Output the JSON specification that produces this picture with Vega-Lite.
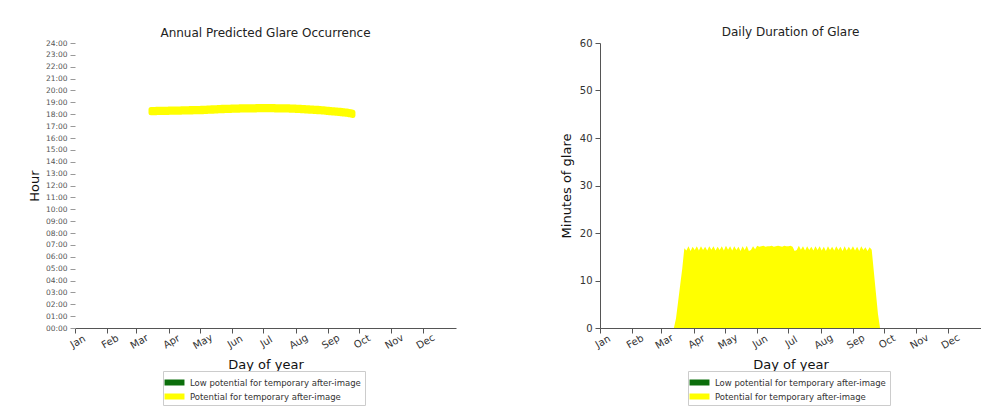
{
  "$schema": "https://vega.github.io/schema/vega-lite/v6.json",
  "padding": {"left": 28, "top": 26, "right": 0, "bottom": 0},
  "config": {
    "font": "DejaVu Sans",
    "view": {"stroke": null},
    "title": {"fontSize": 12, "fontWeight": "normal", "color": "#222", "anchor": "middle", "offset": -1},
    "axis": {"grid": false, "domainColor": "#555", "tickColor": "#555", "labelColor": "#333", "titleColor": "#111", "titleFontWeight": "normal"},
    "concat": {"spacing": 104}
  },
  "datasets": {
    "glare": [
      {"day": 71, "minutes": 0, "start": null, "end": null},
      {"day": 73, "minutes": 2, "start": 18.13, "end": 18.41},
      {"day": 75, "minutes": 5.5, "start": 18.13, "end": 18.41},
      {"day": 77, "minutes": 9, "start": 18.13, "end": 18.41},
      {"day": 79, "minutes": 12.5, "start": 18.14, "end": 18.42},
      {"day": 81, "minutes": 16.8, "start": 18.14, "end": 18.42},
      {"day": 83, "minutes": 16.3, "start": 18.14, "end": 18.42},
      {"day": 85, "minutes": 17.2, "start": 18.15, "end": 18.43},
      {"day": 87, "minutes": 16.2, "start": 18.15, "end": 18.43},
      {"day": 89, "minutes": 17.1, "start": 18.15, "end": 18.43},
      {"day": 91, "minutes": 16.4, "start": 18.16, "end": 18.44},
      {"day": 93, "minutes": 17.2, "start": 18.16, "end": 18.44},
      {"day": 95, "minutes": 16.3, "start": 18.16, "end": 18.44},
      {"day": 97, "minutes": 17.2, "start": 18.17, "end": 18.45},
      {"day": 99, "minutes": 16.4, "start": 18.17, "end": 18.45},
      {"day": 101, "minutes": 17.1, "start": 18.17, "end": 18.45},
      {"day": 103, "minutes": 16.3, "start": 18.18, "end": 18.46},
      {"day": 105, "minutes": 17.2, "start": 18.18, "end": 18.46},
      {"day": 107, "minutes": 16.5, "start": 18.19, "end": 18.47},
      {"day": 109, "minutes": 17.2, "start": 18.19, "end": 18.47},
      {"day": 111, "minutes": 16.3, "start": 18.20, "end": 18.48},
      {"day": 113, "minutes": 17.1, "start": 18.20, "end": 18.48},
      {"day": 115, "minutes": 16.4, "start": 18.21, "end": 18.49},
      {"day": 117, "minutes": 17.2, "start": 18.21, "end": 18.49},
      {"day": 119, "minutes": 16.3, "start": 18.21, "end": 18.49},
      {"day": 121, "minutes": 17.3, "start": 18.22, "end": 18.50},
      {"day": 123, "minutes": 16.5, "start": 18.22, "end": 18.50},
      {"day": 125, "minutes": 17.2, "start": 18.23, "end": 18.51},
      {"day": 127, "minutes": 16.3, "start": 18.24, "end": 18.52},
      {"day": 129, "minutes": 17.2, "start": 18.25, "end": 18.53},
      {"day": 131, "minutes": 16.4, "start": 18.26, "end": 18.54},
      {"day": 133, "minutes": 17.1, "start": 18.26, "end": 18.54},
      {"day": 135, "minutes": 16.2, "start": 18.27, "end": 18.55},
      {"day": 137, "minutes": 17.2, "start": 18.28, "end": 18.56},
      {"day": 139, "minutes": 16.4, "start": 18.29, "end": 18.57},
      {"day": 141, "minutes": 17.3, "start": 18.30, "end": 18.58},
      {"day": 143, "minutes": 16.2, "start": 18.30, "end": 18.58},
      {"day": 145, "minutes": 16.4, "start": 18.31, "end": 18.59},
      {"day": 147, "minutes": 17.2, "start": 18.32, "end": 18.60},
      {"day": 149, "minutes": 16.6, "start": 18.32, "end": 18.60},
      {"day": 151, "minutes": 17.3, "start": 18.33, "end": 18.61},
      {"day": 153, "minutes": 17.1, "start": 18.33, "end": 18.61},
      {"day": 155, "minutes": 17.2, "start": 18.34, "end": 18.62},
      {"day": 157, "minutes": 17.3, "start": 18.34, "end": 18.62},
      {"day": 159, "minutes": 17.1, "start": 18.35, "end": 18.63},
      {"day": 161, "minutes": 17.2, "start": 18.35, "end": 18.63},
      {"day": 163, "minutes": 17.2, "start": 18.35, "end": 18.63},
      {"day": 165, "minutes": 17.3, "start": 18.36, "end": 18.64},
      {"day": 167, "minutes": 17.1, "start": 18.36, "end": 18.64},
      {"day": 169, "minutes": 17.2, "start": 18.36, "end": 18.64},
      {"day": 171, "minutes": 17.3, "start": 18.36, "end": 18.64},
      {"day": 173, "minutes": 17.2, "start": 18.36, "end": 18.64},
      {"day": 175, "minutes": 17.1, "start": 18.37, "end": 18.65},
      {"day": 177, "minutes": 17.3, "start": 18.37, "end": 18.65},
      {"day": 179, "minutes": 17.2, "start": 18.37, "end": 18.65},
      {"day": 181, "minutes": 17.2, "start": 18.37, "end": 18.65},
      {"day": 183, "minutes": 17.3, "start": 18.37, "end": 18.65},
      {"day": 185, "minutes": 17.1, "start": 18.37, "end": 18.65},
      {"day": 187, "minutes": 16.2, "start": 18.37, "end": 18.65},
      {"day": 189, "minutes": 16.4, "start": 18.37, "end": 18.65},
      {"day": 191, "minutes": 17.3, "start": 18.37, "end": 18.65},
      {"day": 193, "minutes": 16.5, "start": 18.36, "end": 18.64},
      {"day": 195, "minutes": 17.2, "start": 18.36, "end": 18.64},
      {"day": 197, "minutes": 16.3, "start": 18.36, "end": 18.64},
      {"day": 199, "minutes": 17.2, "start": 18.36, "end": 18.64},
      {"day": 201, "minutes": 16.4, "start": 18.36, "end": 18.64},
      {"day": 203, "minutes": 17.1, "start": 18.35, "end": 18.63},
      {"day": 205, "minutes": 16.3, "start": 18.35, "end": 18.63},
      {"day": 207, "minutes": 17.2, "start": 18.34, "end": 18.62},
      {"day": 209, "minutes": 16.4, "start": 18.34, "end": 18.62},
      {"day": 211, "minutes": 17.2, "start": 18.33, "end": 18.61},
      {"day": 213, "minutes": 16.3, "start": 18.32, "end": 18.60},
      {"day": 215, "minutes": 17.1, "start": 18.31, "end": 18.59},
      {"day": 217, "minutes": 16.2, "start": 18.30, "end": 18.58},
      {"day": 219, "minutes": 17.2, "start": 18.29, "end": 18.57},
      {"day": 221, "minutes": 16.4, "start": 18.28, "end": 18.56},
      {"day": 223, "minutes": 17.1, "start": 18.27, "end": 18.55},
      {"day": 225, "minutes": 16.3, "start": 18.26, "end": 18.54},
      {"day": 227, "minutes": 17.2, "start": 18.25, "end": 18.53},
      {"day": 229, "minutes": 16.4, "start": 18.24, "end": 18.52},
      {"day": 231, "minutes": 17.1, "start": 18.23, "end": 18.51},
      {"day": 233, "minutes": 16.2, "start": 18.22, "end": 18.50},
      {"day": 235, "minutes": 17.2, "start": 18.21, "end": 18.49},
      {"day": 237, "minutes": 16.3, "start": 18.19, "end": 18.47},
      {"day": 239, "minutes": 17.1, "start": 18.18, "end": 18.46},
      {"day": 241, "minutes": 16.4, "start": 18.16, "end": 18.44},
      {"day": 243, "minutes": 17.2, "start": 18.14, "end": 18.42},
      {"day": 245, "minutes": 16.3, "start": 18.13, "end": 18.41},
      {"day": 247, "minutes": 17.1, "start": 18.11, "end": 18.39},
      {"day": 249, "minutes": 16.2, "start": 18.10, "end": 18.38},
      {"day": 251, "minutes": 17.2, "start": 18.08, "end": 18.36},
      {"day": 253, "minutes": 16.4, "start": 18.06, "end": 18.34},
      {"day": 255, "minutes": 17.0, "start": 18.05, "end": 18.33},
      {"day": 257, "minutes": 16.2, "start": 18.03, "end": 18.31},
      {"day": 259, "minutes": 17.0, "start": 18.01, "end": 18.29},
      {"day": 261, "minutes": 16.5, "start": 17.99, "end": 18.27},
      {"day": 263, "minutes": 12, "start": 17.96, "end": 18.24},
      {"day": 265, "minutes": 7.5, "start": 17.93, "end": 18.21},
      {"day": 267, "minutes": 3, "start": 17.90, "end": 18.18},
      {"day": 269, "minutes": 0, "start": null, "end": null}
    ]
  },
  "hconcat": [
    {
      "width": 381,
      "height": 285,
      "title": "Annual Predicted Glare Occurrence",
      "data": {"name": "glare"},
      "transform": [{"filter": "datum.start != null"}],
      "mark": {"type": "area", "stroke": "#ffff00", "strokeWidth": 5, "strokeJoin": "round", "strokeCap": "round", "interpolate": "monotone", "opacity": 1},
      "encoding": {
        "x": {
          "field": "day", "type": "quantitative",
          "scale": {"domain": [0, 366], "nice": false, "zero": false},
          "axis": {
            "values": [0, 31, 59, 90, 120, 151, 181, 212, 243, 273, 304, 334],
            "labelExpr": "['Jan','Feb','Mar','Apr','May','Jun','Jul','Aug','Sep','Oct','Nov','Dec'][indexof([0,31,59,90,120,151,181,212,243,273,304,334], datum.value)]",
            "labelAngle": -30, "labelAlign": "center", "labelBaseline": "top",
            "labelFontSize": 10, "tickSize": 5, "labelPadding": 4,
            "title": "Day of year", "titleFontSize": 13, "titlePadding": 8
          }
        },
        "y": {
          "field": "start", "type": "quantitative",
          "scale": {"domain": [0, 24], "nice": false},
          "axis": {
            "values": [0, 1, 2, 3, 4, 5, 6, 7, 8, 9, 10, 11, 12, 13, 14, 15, 16, 17, 18, 19, 20, 21, 22, 23, 24],
            "labelExpr": "format(datum.value, '02d') + ':00'",
            "labelFontSize": 7.5, "labelColor": "#555", "domain": false,
            "tickSize": 5, "tickColor": "#999", "labelPadding": 3,
            "title": "Hour", "titleFontSize": 13, "titlePadding": 4
          }
        },
        "y2": {"field": "end"},
        "color": {
          "datum": "Potential for temporary after-image", "type": "nominal",
          "scale": {"domain": ["Low potential for temporary after-image", "Potential for temporary after-image"], "range": ["#0b6e0b", "#ffff00"]},
          "legend": {
            "orient": "none", "legendX": 88, "legendY": 328, "title": null, "direction": "vertical",
            "strokeColor": "#ccc", "padding": 4, "symbolType": "M-1.33,-0.4H1.33V0.4H-1.33Z",
            "symbolSize": 225, "symbolStrokeWidth": 0, "labelFontSize": 8.5, "labelColor": "#333",
            "rowPadding": 2, "labelOffset": 8, "labelLimit": 400
          }
        }
      }
    },
    {
      "width": 381,
      "height": 285,
      "title": "Daily Duration of Glare",
      "data": {"name": "glare"},
      "mark": {"type": "area", "opacity": 1},
      "encoding": {
        "x": {
          "field": "day", "type": "quantitative",
          "scale": {"domain": [0, 366], "nice": false, "zero": false},
          "axis": {
            "values": [0, 31, 59, 90, 120, 151, 181, 212, 243, 273, 304, 334],
            "labelExpr": "['Jan','Feb','Mar','Apr','May','Jun','Jul','Aug','Sep','Oct','Nov','Dec'][indexof([0,31,59,90,120,151,181,212,243,273,304,334], datum.value)]",
            "labelAngle": -30, "labelAlign": "center", "labelBaseline": "top",
            "labelFontSize": 10, "tickSize": 5, "labelPadding": 4,
            "title": "Day of year", "titleFontSize": 13, "titlePadding": 8
          }
        },
        "y": {
          "field": "minutes", "type": "quantitative",
          "scale": {"domain": [0, 60], "nice": false},
          "axis": {
            "values": [0, 10, 20, 30, 40, 50, 60],
            "labelFontSize": 10, "tickSize": 5, "labelPadding": 3,
            "title": "Minutes of glare", "titleFontSize": 13, "titlePadding": 6
          }
        },
        "color": {
          "datum": "Potential for temporary after-image", "type": "nominal",
          "scale": {"domain": ["Low potential for temporary after-image", "Potential for temporary after-image"], "range": ["#0b6e0b", "#ffff00"]},
          "legend": {
            "orient": "none", "legendX": 88, "legendY": 328, "title": null, "direction": "vertical",
            "strokeColor": "#ccc", "padding": 4, "symbolType": "M-1.33,-0.4H1.33V0.4H-1.33Z",
            "symbolSize": 225, "symbolStrokeWidth": 0, "labelFontSize": 8.5, "labelColor": "#333",
            "rowPadding": 2, "labelOffset": 8, "labelLimit": 400
          }
        }
      }
    }
  ],
  "resolve": {"scale": {"color": "independent", "x": "independent", "y": "independent"}, "legend": {"color": "independent"}}
}
